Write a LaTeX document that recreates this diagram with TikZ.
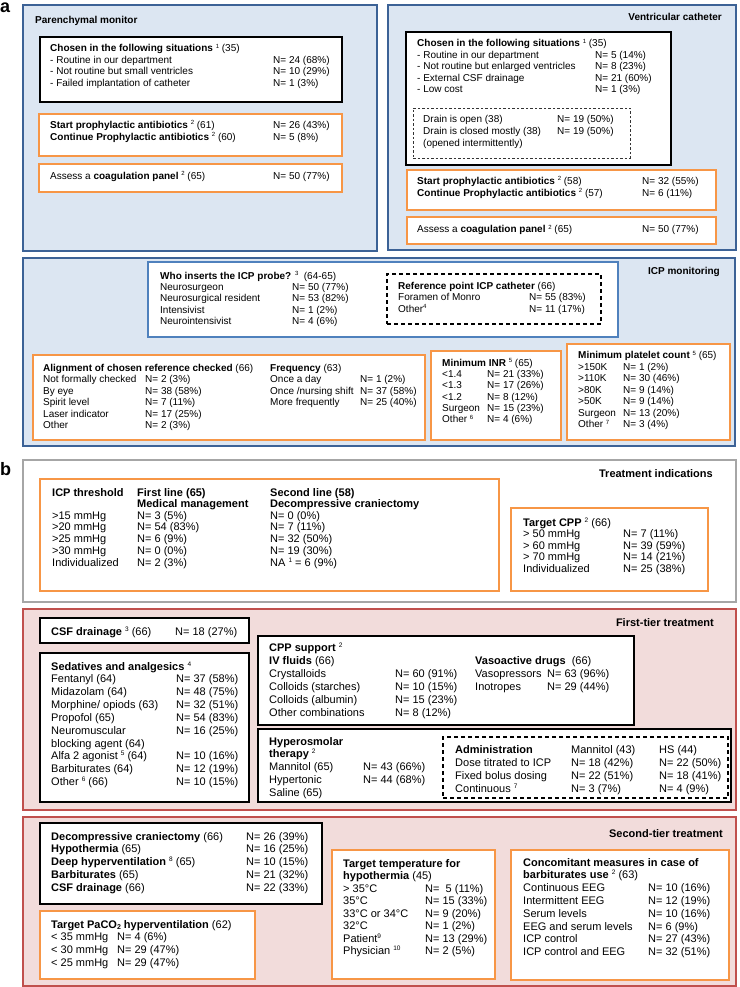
\documentclass[tikz,border=0pt]{standalone}
\usepackage{fontspec}
\setmainfont{Liberation Sans}
\usetikzlibrary{fit}
\definecolor{pblue}{HTML}{3C6296}
\definecolor{pfill}{HTML}{DCE6F2}
\definecolor{iblue}{HTML}{4F81BD}
\definecolor{orng}{HTML}{F79646}
\definecolor{pred}{HTML}{C0504D}
\definecolor{pinkfill}{HTML}{F2DCDB}
\definecolor{pgray}{HTML}{A6A6A6}
\newcommand\sps[1]{\raisebox{3.6pt}{\fontsize{6}{6}\selectfont #1}}
\newcommand\spb[1]{\raisebox{4pt}{\fontsize{6.5}{6.5}\selectfont #1}}
\newcommand\sbb[1]{\raisebox{-1.6pt}{\fontsize{7}{7}\selectfont #1}}
\begin{document}
\begin{tikzpicture}[x=1pt,y=-1pt,
  bluepanel/.style={draw=pblue, line width=2.6pt, fill=pfill, inner sep=0pt},
  redpanel/.style={draw=pred, line width=2.6pt, fill=pinkfill, inner sep=0pt},
  graypanel/.style={draw=pgray, line width=1.3pt, fill=white, inner sep=0pt},
  blackbox/.style={draw=black, line width=1.4pt, fill=white, inner sep=0pt},
  orangebox/.style={draw=orng, line width=2.4pt, fill=white, inner sep=0pt},
  innerblue/.style={draw=iblue, line width=2.4pt, fill=white, inner sep=0pt},
  dashbox/.style={draw=black, line width=1.1pt, dashed, dash pattern=on 4pt off 3pt, inner sep=0pt},
  finedash/.style={draw=black!80, line width=0.8pt, dashed, dash pattern=on 2.5pt off 2pt, inner sep=0pt},
  ta/.style={anchor=base west, inner sep=0pt, font=\fontsize{10}{11.5}\selectfont},
  tb/.style={anchor=base west, inner sep=0pt, font=\fontsize{11}{12.8}\selectfont},
  ttla/.style={inner sep=0pt, font=\fontsize{10}{12}\selectfont\bfseries},
  ttlb/.style={inner sep=0pt, font=\fontsize{11}{12}\selectfont\bfseries},
  plabel/.style={anchor=base west, inner sep=0pt, font=\fontsize{18}{18}\selectfont\bfseries}
]
\useasboundingbox (0,0) rectangle (739,987);
\fill[white] (0,0) rectangle (739,987);

% ---------------- part a ----------------
\node[plabel] (la) at (0,13) {a};

% Parenchymal monitor
\node[bluepanel, fit={(23,5) (377,251)}] (pm) {};
\node[ttla, anchor=base west] (pmt) at (35,23.6) {Parenchymal monitor};
\node[blackbox, fit={(40,37) (342,102)}] (pmb) {};
\node[ta] (pmbt) at (50,52) {\begin{tabular}[t]{@{}p{223pt}@{}l@{}}
\multicolumn{2}{@{}l@{}}{\textbf{Chosen in the following situations} \sps{1} (35)}\\
- Routine in our department & N= 24 (68\%)\\
- Not routine but small ventricles & N= 10 (29\%)\\
- Failed implantation of catheter & N= 1 (3\%)
\end{tabular}};
\node[orangebox, fit={(39,114) (342,156)}] (pmo1) {};
\node[ta, font=\fontsize{10}{11.7}\selectfont] (pmo1t) at (50,128.6) {\begin{tabular}[t]{@{}p{223pt}@{}l@{}}
\textbf{Start prophylactic antibiotics} \sps{2} (61) & N= 26 (43\%)\\
\textbf{Continue Prophylactic antibiotics} \sps{2} (60) & N= 5 (8\%)
\end{tabular}};
\node[orangebox, fit={(39,164) (342,192)}] (pmo2) {};
\node[ta] (pmo2t) at (50,179.6) {\begin{tabular}[t]{@{}p{223pt}@{}l@{}}
Assess a \textbf{coagulation panel} \sps{2} (65) & N= 50 (77\%)
\end{tabular}};

% Ventricular catheter
\node[bluepanel, fit={(388,5) (736,250)}] (vc) {};
\node[ttla, anchor=base east] (vct) at (722,20.6) {Ventricular catheter};
\node[blackbox, fit={(406,32) (671,165)}] (vcb) {};
\node[ta] (vcbt) at (417,47) {\begin{tabular}[t]{@{}p{178pt}@{}l@{}}
\multicolumn{2}{@{}l@{}}{\textbf{Chosen in the following situations} \sps{1} (35)}\\
- Routine in our department & N= 5 (14\%)\\
- Not routine but enlarged ventricles & N= 8 (23\%)\\
- External CSF drainage & N= 21 (60\%)\\
- Low cost & N= 1 (3\%)
\end{tabular}};
\node[finedash, fit={(413,108) (630,158)}] (vcd) {};
\node[ta, font=\fontsize{10}{11.7}\selectfont] (vcdt) at (423,123) {\begin{tabular}[t]{@{}p{134pt}@{}l@{}}
Drain is open (38) & N= 19 (50\%)\\
Drain is closed mostly (38) & N= 19 (50\%)\\
(opened intermittently) &
\end{tabular}};
\node[orangebox, fit={(407,170) (716,210)}] (vco1) {};
\node[ta, font=\fontsize{10}{11.7}\selectfont] (vco1t) at (417,184.6) {\begin{tabular}[t]{@{}p{225pt}@{}l@{}}
\textbf{Start prophylactic antibiotics} \sps{2} (58) & N= 32 (55\%)\\
\textbf{Continue Prophylactic antibiotics} \sps{2} (57) & N= 6 (11\%)
\end{tabular}};
\node[orangebox, fit={(407,217) (716,244)}] (vco2) {};
\node[ta] (vco2t) at (417,232.6) {\begin{tabular}[t]{@{}p{225pt}@{}l@{}}
Assess a \textbf{coagulation panel} \sps{2} (65) & N= 50 (77\%)
\end{tabular}};

% ICP monitoring
\node[bluepanel, fit={(23,258) (735,446)}] (icp) {};
\node[ttla, anchor=base east] (icpt) at (720,274.6) {ICP monitoring};
\node[innerblue, fit={(148,262) (618,337)}] (who) {};
\node[ta, font=\fontsize{10}{11.25}\selectfont] (whot) at (160,279.3) {\begin{tabular}[t]{@{}p{132pt}@{}l@{}}
\multicolumn{2}{@{}l@{}}{\textbf{Who inserts the ICP probe?} \sps{3}\ \ (64-65)}\\
Neurosurgeon & N= 50 (77\%)\\
Neurosurgical resident & N= 53 (82\%)\\
Intensivist & N= 1 (2\%)\\
Neurointensivist & N= 4 (6\%)
\end{tabular}};
\node[dashbox, fit={(387,274) (601,324)}] (refp) {};
\node[ta, font=\fontsize{10}{11.2}\selectfont] (refpt) at (398,289.6) {\begin{tabular}[t]{@{}p{131pt}@{}l@{}}
\multicolumn{2}{@{}l@{}}{\textbf{Reference point ICP catheter} (66)}\\
Foramen of Monro & N= 55 (83\%)\\
Other\sps{4} & N= 11 (17\%)
\end{tabular}};
\node[orangebox, fit={(33,355) (425,440)}] (alig) {};
\node[ta, font=\fontsize{10}{11.45}\selectfont] (aligt) at (43,371.3) {\begin{tabular}[t]{@{}p{102pt}@{}l@{}}
\multicolumn{2}{@{}l@{}}{\textbf{Alignment of chosen reference checked} (66)}\\
Not formally checked & N= 2 (3\%)\\
By eye & N= 38 (58\%)\\
Spirit level & N= 7 (11\%)\\
Laser indicator & N= 17 (25\%)\\
Other & N= 2 (3\%)
\end{tabular}};
\node[ta, font=\fontsize{10}{11.45}\selectfont] (freqt) at (270,371.3) {\begin{tabular}[t]{@{}p{90pt}@{}l@{}}
\multicolumn{2}{@{}l@{}}{\textbf{Frequency} (63)}\\
Once a day & N= 1 (2\%)\\
Once /nursing shift & N= 37 (58\%)\\
More frequently & N= 25 (40\%)
\end{tabular}};
\node[orangebox, fit={(431,351) (561,440)}] (inr) {};
\node[ta, font=\fontsize{10}{11.35}\selectfont] (inrt) at (442,366) {\begin{tabular}[t]{@{}p{45pt}@{}l@{}}
\multicolumn{2}{@{}l@{}}{\textbf{Minimum INR} \sps{5} (65)}\\
<1.4 & N= 21 (33\%)\\
<1.3 & N= 17 (26\%)\\
<1.2 & N= 8 (12\%)\\
Surgeon & N= 15 (23\%)\\
Other \sps{6} & N= 4 (6\%)
\end{tabular}};
\node[orangebox, fit={(567,344) (730,440)}] (plt) {};
\node[ta, font=\fontsize{10}{11.55}\selectfont] (pltt) at (578,358.6) {\begin{tabular}[t]{@{}p{45pt}@{}l@{}}
\multicolumn{2}{@{}l@{}}{\textbf{Minimum platelet count} \sps{5} (65)}\\
>150K & N= 1 (2\%)\\
>110K & N= 30 (46\%)\\
>80K & N= 9 (14\%)\\
>50K & N= 9 (14\%)\\
Surgeon & N= 13 (20\%)\\
Other \sps{7} & N= 3 (4\%)
\end{tabular}};

% ---------------- part b ----------------
\node[plabel] (lb) at (0,475) {b};

% Treatment indications
\node[graypanel, fit={(23,460) (736,602)}] (ti) {};
\node[ttlb, anchor=base east] (tit) at (713,477) {Treatment indications};
\node[orangebox, fit={(40,479) (499,591)}] (thr) {};
\node[tb, font=\fontsize{11}{11.65}\selectfont] (thrt) at (52,496) {\begin{tabular}[t]{@{}p{85pt}@{}p{133pt}@{}l@{}}
\textbf{ICP threshold} & \textbf{First line (65)} & \textbf{Second line (58)}\\
 & \textbf{Medical management} & \textbf{Decompressive craniectomy}\\
>15 mmHg & N= 3 (5\%) & N= 0 (0\%)\\
>20 mmHg & N= 54 (83\%) & N= 7 (11\%)\\
>25 mmHg & N= 6 (9\%) & N= 32 (50\%)\\
>30 mmHg & N= 0 (0\%) & N= 19 (30\%)\\
Individualized & N= 2 (3\%) & NA \spb{1} = 6 (9\%)
\end{tabular}};
\node[orangebox, fit={(511,508) (708,591)}] (cpp) {};
\node[tb, font=\fontsize{11}{11.6}\selectfont] (cppt) at (523,526) {\begin{tabular}[t]{@{}p{100pt}@{}l@{}}
\multicolumn{2}{@{}l@{}}{\textbf{Target CPP} \spb{2} (66)}\\
> 50 mmHg & N= 7 (11\%)\\
> 60 mmHg & N= 39 (59\%)\\
> 70 mmHg & N= 14 (21\%)\\
Individualized & N= 25 (38\%)
\end{tabular}};

% First-tier treatment
\node[redpanel, fit={(23,609) (736,810)}] (ft) {};
\node[ttlb, anchor=base east] (ftt) at (714,626) {First-tier treatment};
\node[blackbox, fit={(40,618) (249,643)}] (csf) {};
\node[tb] (csft) at (51,635) {\begin{tabular}[t]{@{}p{124pt}@{}l@{}}
\textbf{CSF drainage} \spb{3} (66) & N= 18 (27\%)
\end{tabular}};
\node[blackbox, fit={(40,653) (249,802)}] (sed) {};
\node[tb, font=\fontsize{11}{12.85}\selectfont] (sedt) at (51,670) {\begin{tabular}[t]{@{}p{125pt}@{}l@{}}
\multicolumn{2}{@{}l@{}}{\textbf{Sedatives and analgesics} \spb{4}}\\
Fentanyl (64) & N= 37 (58\%)\\
Midazolam (64) & N= 48 (75\%)\\
Morphine/ opiods (63) & N= 32 (51\%)\\
Propofol (65) & N= 54 (83\%)\\
Neuromuscular & N= 16 (25\%)\\
blocking agent (64) & \\
Alfa 2 agonist \spb{5} (64) & N= 10 (16\%)\\
Barbiturates (64) & N= 12 (19\%)\\
Other \spb{6} (66) & N= 10 (15\%)
\end{tabular}};
\node[blackbox, fit={(258,636) (634,725)}] (cpps) {};
\node[tb, font=\fontsize{11}{13}\selectfont] (cppst) at (269,651) {\begin{tabular}[t]{@{}p{126pt}@{}l@{}}
\multicolumn{2}{@{}l@{}}{\textbf{CPP support} \spb{2}}\\
\multicolumn{2}{@{}l@{}}{\textbf{IV fluids} (66)}\\
Crystalloids & N= 60 (91\%)\\
Colloids (starches) & N= 10 (15\%)\\
Colloids (albumin) & N= 15 (23\%)\\
Other combinations & N= 8 (12\%)
\end{tabular}};
\node[tb, font=\fontsize{11}{13}\selectfont] (vasot) at (475,664) {\begin{tabular}[t]{@{}p{72pt}@{}l@{}}
\multicolumn{2}{@{}l@{}}{\textbf{Vasoactive drugs}\ \ (66)}\\
Vasopressors & N= 63 (96\%)\\
Inotropes & N= 29 (44\%)
\end{tabular}};
\node[blackbox, fit={(258,729) (731,802)}] (hyp) {};
\node[tb, font=\fontsize{11}{12.8}\selectfont] (hypt) at (269,745) {\begin{tabular}[t]{@{}p{94pt}@{}l@{}}
\multicolumn{2}{@{}l@{}}{\textbf{Hyperosmolar}}\\
\multicolumn{2}{@{}l@{}}{\textbf{therapy} \spb{2}}\\
Mannitol (65) & N= 43 (66\%)\\
Hypertonic & N= 44 (68\%)\\
Saline (65) &
\end{tabular}};
\node[dashbox, fit={(443,737) (728,798)}] (adm) {};
\node[tb, font=\fontsize{11}{13}\selectfont] (admt) at (455,753) {\begin{tabular}[t]{@{}p{116pt}@{}p{88pt}@{}l@{}}
\textbf{Administration} & Mannitol (43) & HS (44)\\
Dose titrated to ICP & N= 18 (42\%) & N= 22 (50\%)\\
Fixed bolus dosing & N= 22 (51\%) & N= 18 (41\%)\\
Continuous \spb{7} & N= 3 (7\%) & N= 4 (9\%)
\end{tabular}};

% Second-tier treatment
\node[redpanel, fit={(23,817) (736,986)}] (st) {};
\node[ttlb, anchor=base east] (stt) at (723,837) {Second-tier treatment};
\node[blackbox, fit={(40,823) (322,904)}] (stb) {};
\node[tb, font=\fontsize{11}{12.75}\selectfont] (stbt) at (51,840) {\begin{tabular}[t]{@{}p{195pt}@{}l@{}}
\textbf{Decompressive craniectomy} (66) & N= 26 (39\%)\\
\textbf{Hypothermia} (65) & N= 16 (25\%)\\
\textbf{Deep hyperventilation} \spb{8} (65) & N= 10 (15\%)\\
\textbf{Barbiturates} (65) & N= 21 (32\%)\\
\textbf{CSF drainage} (66) & N= 22 (33\%)
\end{tabular}};
\node[orangebox, fit={(40,911) (255,979)}] (pac) {};
\node[tb, font=\fontsize{11}{12.8}\selectfont] (pact) at (51,928) {\begin{tabular}[t]{@{}p{66pt}@{}l@{}}
\multicolumn{2}{@{}l@{}}{\textbf{Target PaCO\sbb{2} hyperventilation} (62)}\\
< 35 mmHg & N= 4 (6\%)\\
< 30 mmHg & N= 29 (47\%)\\
< 25 mmHg & N= 29 (47\%)
\end{tabular}};
\node[orangebox, fit={(332,850) (495,979)}] (tmp) {};
\node[tb, font=\fontsize{11}{12.5}\selectfont] (tmpt) at (343,867) {\begin{tabular}[t]{@{}p{82pt}@{}l@{}}
\multicolumn{2}{@{}l@{}}{\textbf{Target temperature for}}\\
\multicolumn{2}{@{}l@{}}{\textbf{hypothermia} (45)}\\
> 35°C & N=~~5 (11\%)\\
35°C & N= 15 (33\%)\\
33°C or 34°C & N= 9 (20\%)\\
32°C & N= 1 (2\%)\\
Patient\spb{9} & N= 13 (29\%)\\
Physician \spb{10} & N= 2 (5\%)
\end{tabular}};
\node[orangebox, fit={(511,850) (729,980)}] (con) {};
\node[tb, font=\fontsize{11}{12.8}\selectfont] (cont) at (523,866) {\begin{tabular}[t]{@{}p{125pt}@{}l@{}}
\multicolumn{2}{@{}l@{}}{\textbf{Concomitant measures in case of}}\\
\multicolumn{2}{@{}l@{}}{\textbf{barbiturates use} \spb{2} (63)}\\
Continuous EEG & N= 10 (16\%)\\
Intermittent EEG & N= 12 (19\%)\\
Serum levels & N= 10 (16\%)\\
EEG and serum levels & N= 6 (9\%)\\
ICP control & N= 27 (43\%)\\
ICP control and EEG & N= 32 (51\%)
\end{tabular}};
\end{tikzpicture}
\end{document}
